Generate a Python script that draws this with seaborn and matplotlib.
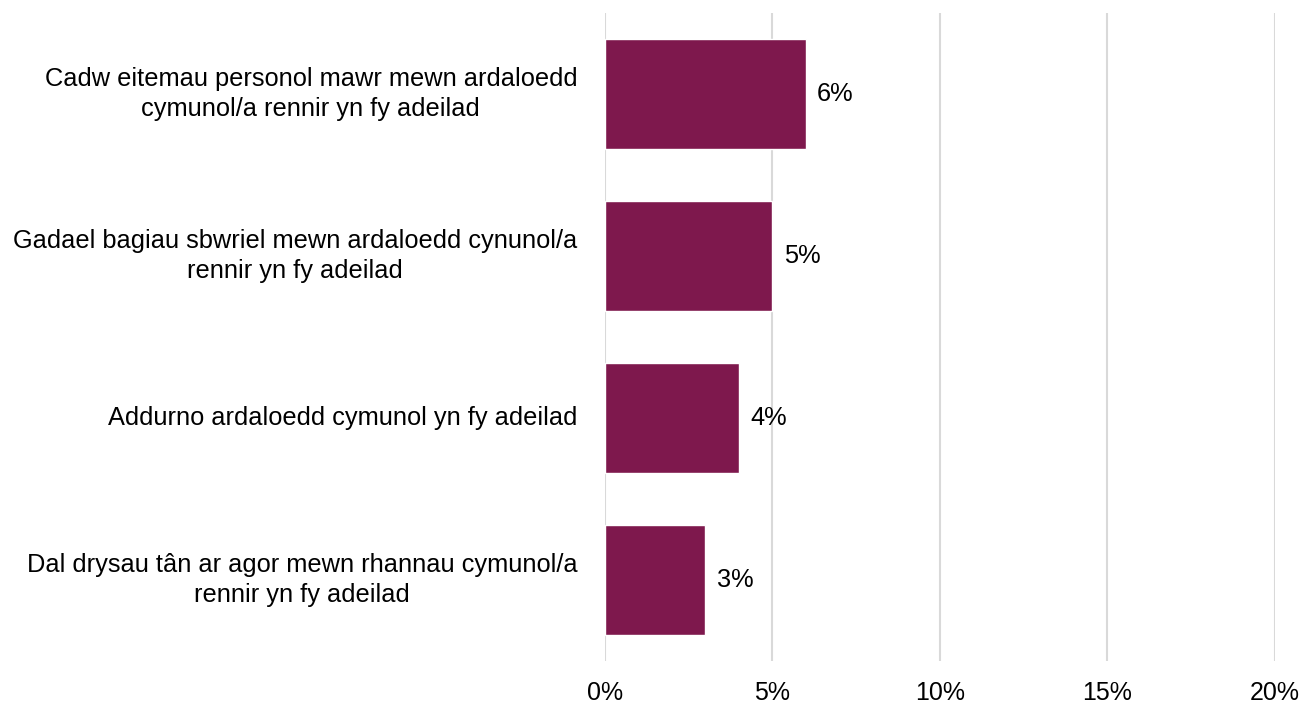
import matplotlib
matplotlib.use("Agg")
import matplotlib.pyplot as plt
import seaborn as sns
import pandas as pd

categories = [
    "Cadw eitemau personol mawr mewn ardaloedd\ncymunol/a rennir yn fy adeilad",
    "Gadael bagiau sbwriel mewn ardaloedd cynunol/a\nrennir yn fy adeilad",
    "Addurno ardaloedd cymunol yn fy adeilad",
    "Dal drysau tân ar agor mewn rhannau cymunol/a\nrennir yn fy adeilad",
]
values = [6, 5, 4, 3]
value_labels = ["6%", "5%", "4%", "3%"]
x_ticks = [0, 5, 10, 15, 20]
x_tick_labels = ["0%", "5%", "10%", "15%", "20%"]

sns.set_theme(style="white")
plt.rcParams["font.family"] = ["Liberation Sans", "DejaVu Sans"]

df = pd.DataFrame({"cat": categories, "val": values})

fig = plt.figure(figsize=(13.01, 7.04), dpi=100)
ax = fig.add_axes([0.465, 0.061, 0.515, 0.9205])

sns.barplot(data=df, x="val", y="cat", orient="h", color="#7E184D",
            saturation=1, width=0.68, ax=ax, zorder=3)

ax.set_xlim(0, 20)
ax.set_ylim(3.5, -0.5)
ax.set_xticks(x_ticks)
ax.set_xticklabels(x_tick_labels, fontsize=18, color="#000000")
ax.tick_params(axis="x", length=0, pad=14)
ax.tick_params(axis="y", length=0, pad=20)
for lbl in ax.get_yticklabels():
    lbl.set_fontsize(18.3)
    lbl.set_multialignment("center")
    lbl.set_linespacing(1.35)
    lbl.set_verticalalignment("center")
    lbl.set_color("#000000")
ax.set_xlabel("")
ax.set_ylabel("")
ax.grid(axis="x", color="#d9d9d9", linewidth=1.5, zorder=0)
ax.grid(axis="y", visible=False)
for s in ax.spines.values():
    s.set_visible(False)

for i, (v, t) in enumerate(zip(values, value_labels)):
    ax.annotate(t, (v, i), xytext=(8, 0), textcoords="offset points",
                va="center", ha="left", fontsize=18.3, color="#000000")

fig.savefig("out.png", dpi=100)
